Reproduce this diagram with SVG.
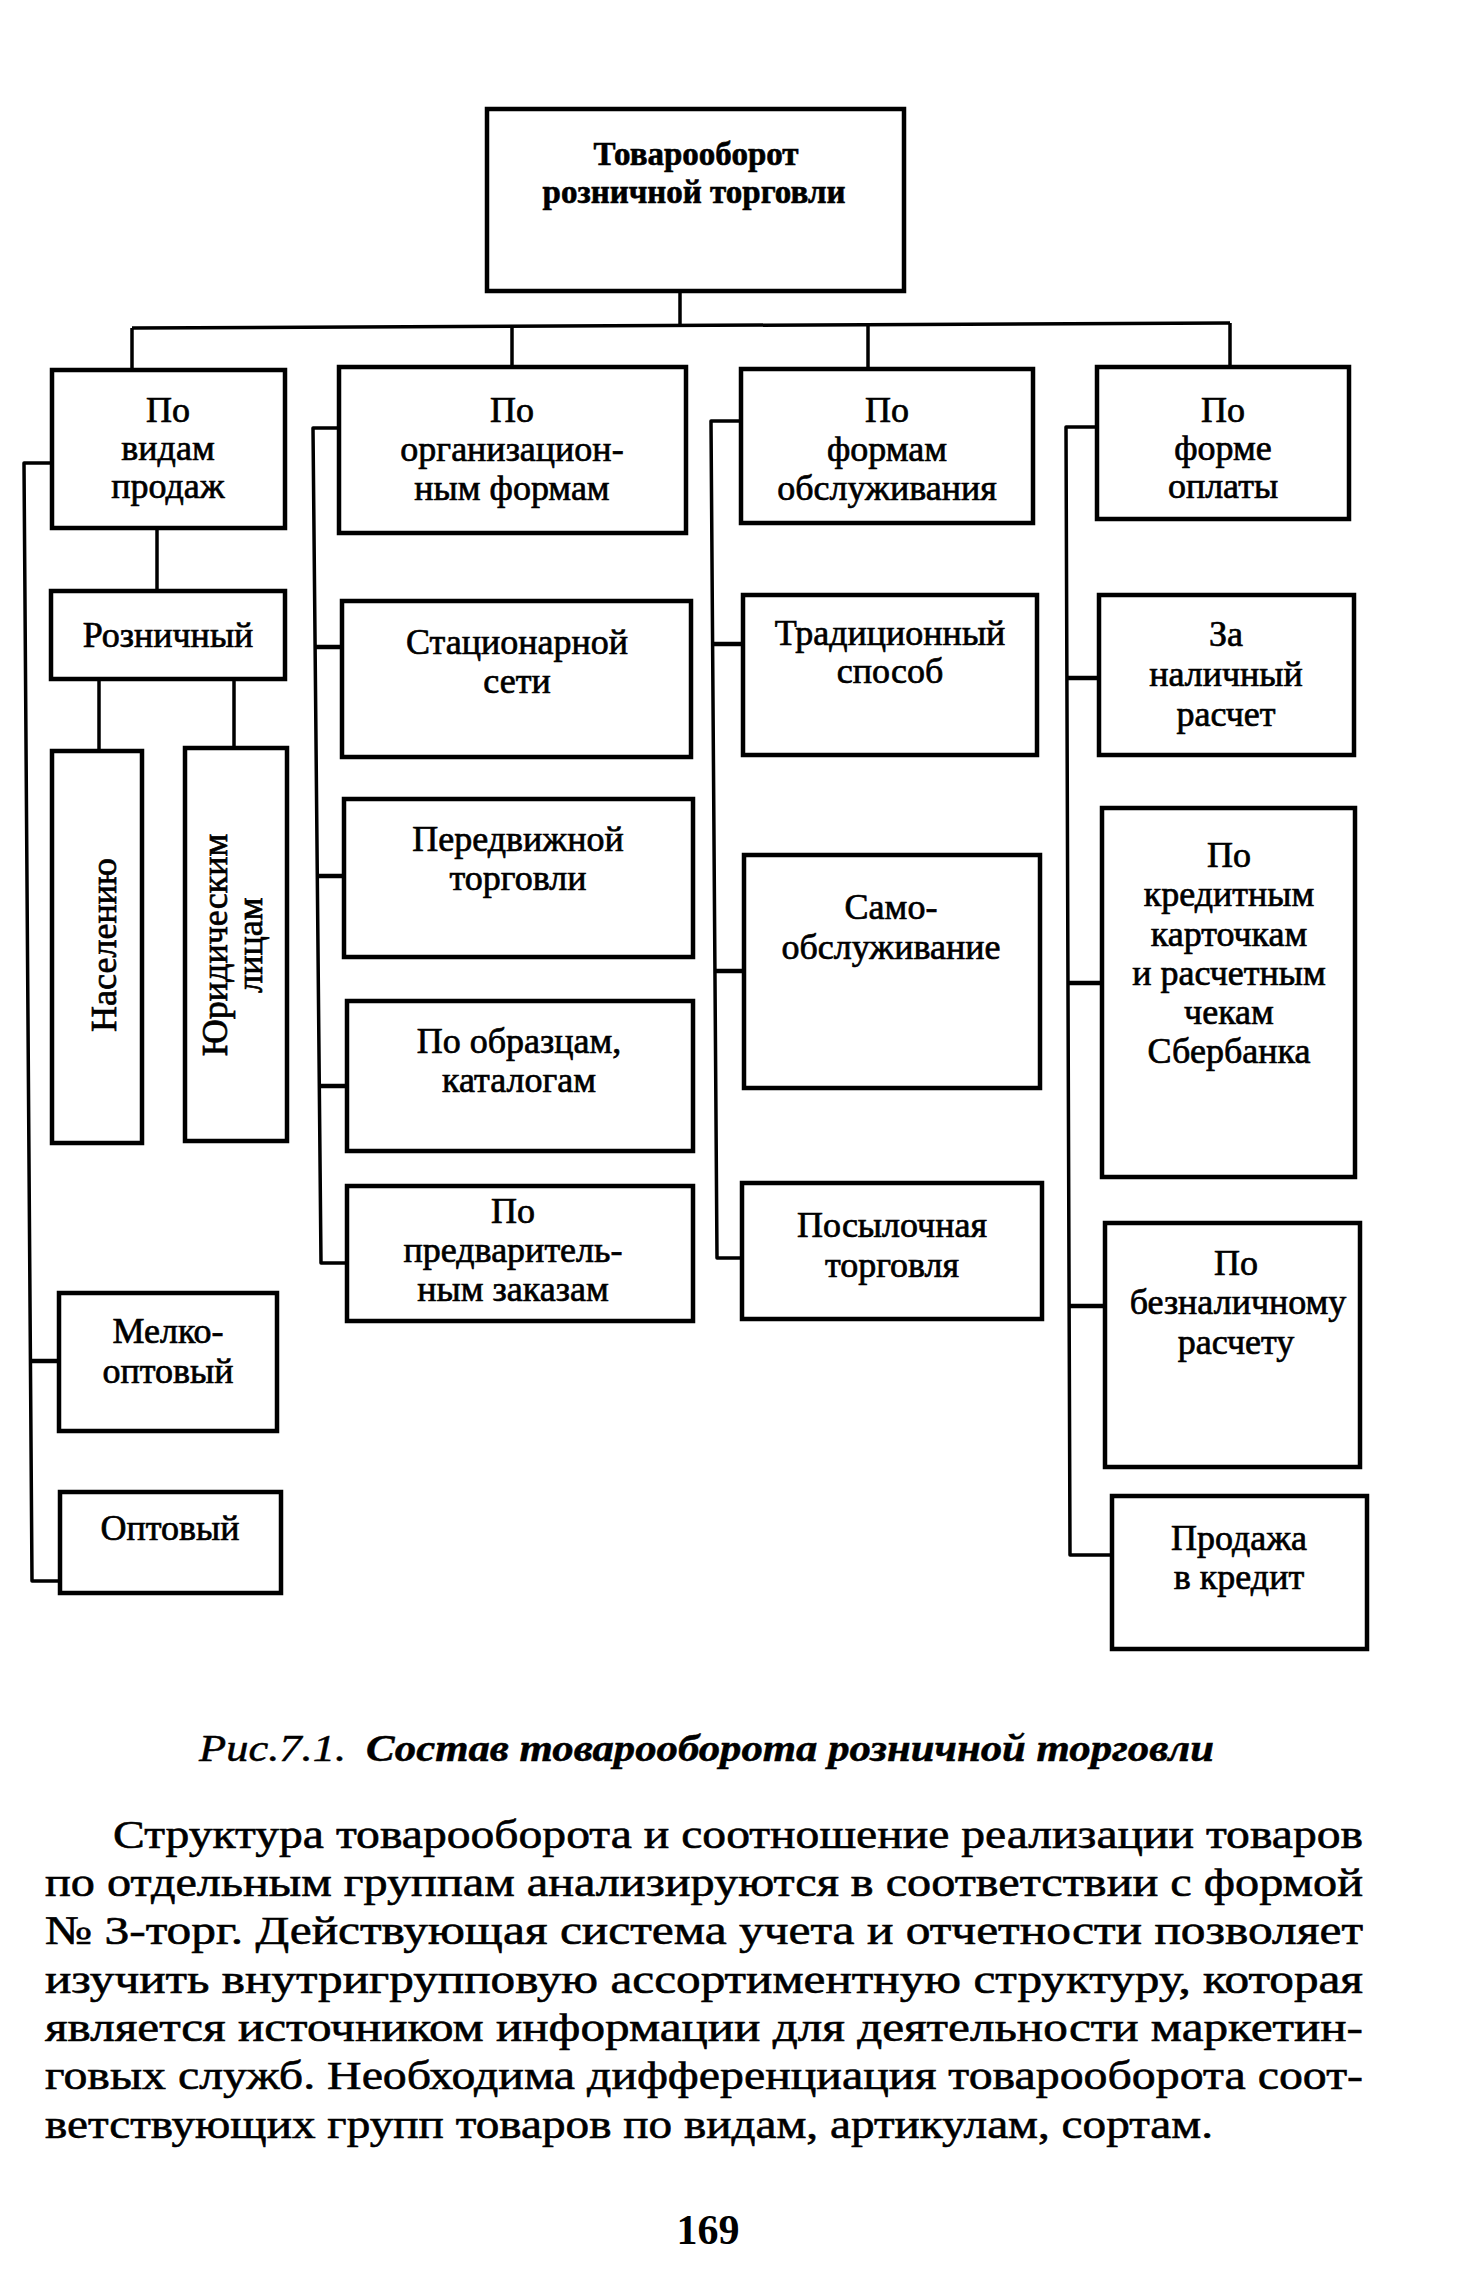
<svg xmlns="http://www.w3.org/2000/svg" width="1483" height="2278" viewBox="0 0 1483 2278">
<style>
.bx{fill:#fff;stroke:#000;stroke-width:4.5}
.cn{fill:none;stroke:#000;stroke-width:3.5;stroke-linejoin:round}
.st{fill:none;stroke:#000;stroke-width:4.5}
.t{font-family:"Liberation Serif","Times New Roman",serif;font-size:36px;fill:#000;stroke:#000;stroke-width:0.7;text-anchor:middle}
.tb{font-family:"Liberation Serif","Times New Roman",serif;font-size:33px;font-weight:bold;fill:#000;stroke:#000;stroke-width:0.6;text-anchor:middle}
.p{font-family:"Liberation Serif","Times New Roman",serif;font-size:41px;fill:#000;stroke:#000;stroke-width:0.6}
.cap{font-family:"Liberation Serif","Times New Roman",serif;font-size:38px;font-style:italic;fill:#000;stroke:#000;stroke-width:0.5}
</style>
<rect width="1483" height="2278" fill="#fff"/>

<g id="connectors">
  <path class="cn" d="M680,292 V326"/>
  <path class="cn" d="M132,328 L1230,323"/>
  <path class="cn" d="M132,328 V370"/>
  <path class="cn" d="M512,326 V367"/>
  <path class="cn" d="M868,324 V369"/>
  <path class="cn" d="M1230,323 V367"/>
  <path class="cn" d="M52,463 H24 L32,1581 H60"/>
  <path class="st" d="M31,1361 H59"/>
  <path class="cn" d="M157,529 V591"/>
  <path class="cn" d="M99,679 V751"/>
  <path class="cn" d="M234,679 V748"/>
  <path class="cn" d="M339,428 H313 L321,1263 H347"/>
  <path class="st" d="M314,647 H342"/>
  <path class="st" d="M316,876 H344"/>
  <path class="st" d="M318,1086 H347"/>
  <path class="cn" d="M741,421 H711 L717,1258 H742"/>
  <path class="st" d="M712,644 H743"/>
  <path class="st" d="M714,971 H744"/>
  <path class="cn" d="M1097,427 H1066 L1070,1555 H1112"/>
  <path class="st" d="M1067,678 H1099"/>
  <path class="st" d="M1068,983 H1102"/>
  <path class="st" d="M1069,1306 H1105"/>
</g>

<g id="root">
  <rect class="bx" x="487" y="109" width="417" height="182"/>
  <text class="tb" x="696" y="165">Товарооборот</text>
  <text class="tb" x="694" y="203">розничной торговли</text>
</g>

<g id="po-vidam-prodazh">
  <rect class="bx" x="52" y="370" width="233" height="158"/>
  <text class="t" x="168" y="422">По</text>
  <text class="t" x="168" y="460">видам</text>
  <text class="t" x="168" y="498">продаж</text>
</g>
<g id="po-org-formam">
  <rect class="bx" x="339" y="367" width="347" height="166"/>
  <text class="t" x="512" y="422">По</text>
  <text class="t" x="512" y="461">организацион-</text>
  <text class="t" x="512" y="500">ным формам</text>
</g>
<g id="po-formam-obsl">
  <rect class="bx" x="741" y="369" width="292" height="154"/>
  <text class="t" x="887" y="422">По</text>
  <text class="t" x="887" y="461">формам</text>
  <text class="t" x="887" y="500">обслуживания</text>
</g>
<g id="po-forme-oplaty">
  <rect class="bx" x="1097" y="367" width="252" height="152"/>
  <text class="t" x="1223" y="422">По</text>
  <text class="t" x="1223" y="460">форме</text>
  <text class="t" x="1223" y="498">оплаты</text>
</g>

<g id="roznichny">
  <rect class="bx" x="51" y="591" width="234" height="88"/>
  <text class="t" x="168" y="647">Розничный</text>
</g>
<g id="naseleniyu">
  <rect class="bx" x="52" y="751" width="90" height="392"/>
  <text class="t" transform="translate(116,945) rotate(-90)">Населению</text>
</g>
<g id="yur-litsam">
  <rect class="bx" x="185" y="748" width="102" height="393"/>
  <text class="t" transform="translate(227,945) rotate(-90)">Юридическим</text>
  <text class="t" transform="translate(262,945) rotate(-90)">лицам</text>
</g>
<g id="melkooptovy">
  <rect class="bx" x="59" y="1293" width="218" height="138"/>
  <text class="t" x="168" y="1343">Мелко-</text>
  <text class="t" x="168" y="1383">оптовый</text>
</g>
<g id="optovy">
  <rect class="bx" x="60" y="1492" width="221" height="101"/>
  <text class="t" x="170" y="1540">Оптовый</text>
</g>

<g id="stacionarnoy">
  <rect class="bx" x="342" y="601" width="349" height="156"/>
  <text class="t" x="517" y="654">Стационарной</text>
  <text class="t" x="517" y="693">сети</text>
</g>
<g id="peredvizhnoy">
  <rect class="bx" x="344" y="799" width="349" height="158"/>
  <text class="t" x="518" y="851">Передвижной</text>
  <text class="t" x="518" y="890">торговли</text>
</g>
<g id="po-obrazcam">
  <rect class="bx" x="347" y="1001" width="346" height="150"/>
  <text class="t" x="519" y="1053">По образцам,</text>
  <text class="t" x="519" y="1092">каталогам</text>
</g>
<g id="po-predvaritelnym">
  <rect class="bx" x="347" y="1186" width="346" height="135"/>
  <text class="t" x="513" y="1223">По</text>
  <text class="t" x="513" y="1262">предваритель-</text>
  <text class="t" x="513" y="1301">ным заказам</text>
</g>

<g id="tradicionny">
  <rect class="bx" x="743" y="595" width="294" height="160"/>
  <text class="t" x="890" y="645">Традиционный</text>
  <text class="t" x="890" y="683">способ</text>
</g>
<g id="samoobsl">
  <rect class="bx" x="744" y="855" width="296" height="233"/>
  <text class="t" x="891" y="919">Само-</text>
  <text class="t" x="891" y="959">обслуживание</text>
</g>
<g id="posylochnaya">
  <rect class="bx" x="742" y="1183" width="300" height="136"/>
  <text class="t" x="892" y="1237">Посылочная</text>
  <text class="t" x="892" y="1277">торговля</text>
</g>

<g id="za-nalichny">
  <rect class="bx" x="1099" y="595" width="255" height="160"/>
  <text class="t" x="1226" y="646">За</text>
  <text class="t" x="1226" y="686">наличный</text>
  <text class="t" x="1226" y="726">расчет</text>
</g>
<g id="po-kreditnym">
  <rect class="bx" x="1102" y="808" width="253" height="369"/>
  <text class="t" x="1229" y="867">По</text>
  <text class="t" x="1229" y="906">кредитным</text>
  <text class="t" x="1229" y="946">карточкам</text>
  <text class="t" x="1229" y="985">и расчетным</text>
  <text class="t" x="1229" y="1024">чекам</text>
  <text class="t" x="1229" y="1063">Сбербанка</text>
</g>
<g id="po-beznalichnomu">
  <rect class="bx" x="1105" y="1223" width="255" height="244"/>
  <text class="t" x="1236" y="1275">По</text>
  <text class="t" x="1238" y="1314">безналичному</text>
  <text class="t" x="1236" y="1354">расчету</text>
</g>
<g id="prodazha-v-kredit">
  <rect class="bx" x="1112" y="1496" width="255" height="153"/>
  <text class="t" x="1239" y="1550">Продажа</text>
  <text class="t" x="1239" y="1589">в кредит</text>
</g>

<g id="caption">
  <text class="cap" x="199" y="1761" textLength="147" lengthAdjust="spacingAndGlyphs">Рис.7.1.</text>
  <text class="cap" x="366" y="1761" font-weight="bold" textLength="848" lengthAdjust="spacingAndGlyphs">Состав товарооборота розничной торговли</text>
</g>

<g id="paragraph">
  <text class="p" x="113" y="1848" textLength="1250" lengthAdjust="spacingAndGlyphs">Структура товарооборота и соотношение реализации товаров</text>
  <text class="p" x="45" y="1896" textLength="1318" lengthAdjust="spacingAndGlyphs">по отдельным группам анализируются в соответствии с формой</text>
  <text class="p" x="45" y="1944" textLength="1318" lengthAdjust="spacingAndGlyphs">№ 3-торг. Действующая система учета и отчетности позволяет</text>
  <text class="p" x="45" y="1993" textLength="1318" lengthAdjust="spacingAndGlyphs">изучить внутригрупповую ассортиментную структуру, которая</text>
  <text class="p" x="45" y="2041" textLength="1318" lengthAdjust="spacingAndGlyphs">является источником информации для деятельности маркетин-</text>
  <text class="p" x="45" y="2089" textLength="1318" lengthAdjust="spacingAndGlyphs">говых служб. Необходима дифференциация товарооборота соот-</text>
  <text class="p" x="45" y="2138" textLength="1168" lengthAdjust="spacingAndGlyphs">ветствующих групп товаров по видам, артикулам, сортам.</text>
</g>

<text x="708" y="2244" font-family="Liberation Serif, serif" font-size="42" font-weight="bold" text-anchor="middle">169</text>
</svg>
